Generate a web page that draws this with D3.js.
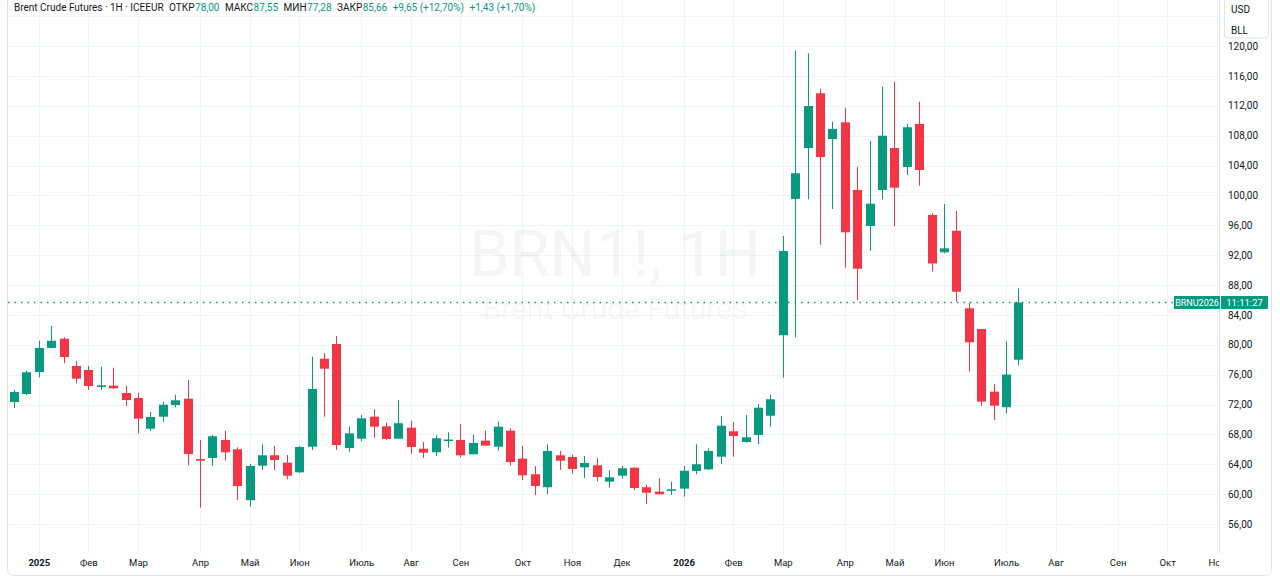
<!DOCTYPE html>
<html>
<head>
<meta charset="utf-8">
<script src="https://cdn.jsdelivr.net/npm/d3@7"></script>
<style>
  body { margin: 0; background: #fff; }
  #chart svg { display: block; font-family: Roboto, "Noto Sans", sans-serif; }
</style>
</head>
<body>
<div id="chart"></div>
<script>
// Brent weekly candles, OHLC
const firstWeek = "2024-12-23";
const lastAxisWeek = "2026-11-16";

const opens = [72.34, 73.41, 76.35, 79.57, 80.81, 77.16, 76.62, 74.35, 74.52, 73.54,
  72.87, 68.76, 70.37, 71.93, 72.78, 64.70, 64.84, 67.25, 66.00, 59.18,
  63.81, 65.20, 64.21, 62.92, 66.35, 78.13, 80.10, 66.18, 67.42, 70.37,
  69.08, 67.42, 68.90, 66.08, 65.60, 67.18, 67.25, 65.33, 67.16, 66.35,
  68.49, 64.75, 62.66, 60.92, 65.20, 64.97, 63.59, 63.86, 61.67, 62.47,
  63.54, 60.92, 60.33, 60.46, 60.73, 63.10, 63.32, 65.01, 68.41, 66.98,
  67.92, 70.50, 81.27, 99.52, 106.34, 113.67, 107.55, 109.78, 100.72, 95.90,
  100.72, 106.34, 103.80, 109.56, 97.37, 92.38, 95.27, 84.88, 82.11, 73.72,
  71.63, 78.00];
const highs = [73.94, 76.53, 80.54, 82.51, 81.00, 77.83, 77.16, 77.06, 76.93, 74.52,
  73.58, 71.00, 72.38, 73.31, 75.28, 67.25, 67.92, 68.49, 66.27, 64.04,
  66.67, 66.45, 65.24, 66.45, 78.40, 78.86, 81.17, 69.03, 70.60, 71.36,
  69.57, 72.60, 69.83, 66.98, 67.88, 68.28, 69.39, 67.96, 68.49, 69.70,
  68.81, 66.45, 63.77, 66.67, 65.78, 65.28, 65.11, 64.80, 63.19, 63.77,
  63.59, 61.22, 62.12, 61.67, 63.77, 66.67, 66.14, 70.46, 69.62, 70.60,
  72.07, 73.31, 94.56, 119.37, 119.02, 114.28, 109.87, 111.74, 103.80, 107.28,
  114.55, 115.22, 109.56, 112.54, 97.60, 98.85, 97.91, 85.63, 82.11, 74.75,
  80.46, 87.55];
const lows = [71.53, 73.27, 75.64, 79.50, 77.52, 74.84, 73.94, 73.94, 74.10, 71.80,
  68.14, 68.45, 69.70, 71.63, 63.86, 58.19, 63.77, 64.48, 59.22, 58.32,
  63.23, 63.19, 61.99, 62.83, 65.91, 70.37, 65.91, 65.68, 67.07, 67.56,
  67.25, 67.42, 65.37, 64.84, 65.11, 66.22, 64.93, 65.33, 66.49, 65.82,
  63.81, 61.89, 59.89, 59.98, 63.23, 62.74, 62.16, 61.72, 60.86, 62.07,
  60.55, 58.68, 59.98, 59.89, 59.66, 62.66, 63.23, 64.04, 65.01, 66.89,
  66.71, 69.03, 75.59, 81.00, 99.48, 93.40, 98.18, 90.32, 85.99, 92.59,
  99.48, 95.90, 102.73, 101.30, 89.81, 92.25, 85.77, 76.39, 71.84, 69.93,
  70.82, 77.28];
const closes = [73.68, 76.31, 79.57, 80.54, 78.36, 75.46, 74.48, 74.57, 74.17, 72.60,
  70.10, 70.33, 71.97, 72.56, 65.37, 64.48, 67.75, 65.60, 61.09, 63.77,
  65.20, 64.57, 62.47, 66.31, 74.08, 76.79, 66.58, 68.14, 70.15, 69.03,
  67.38, 69.49, 66.31, 65.55, 67.48, 67.31, 65.20, 66.85, 66.49, 69.03,
  64.30, 62.52, 61.09, 65.78, 64.48, 63.37, 64.17, 62.30, 62.25, 63.46,
  60.82, 60.19, 59.98, 60.65, 63.14, 64.00, 65.78, 69.16, 67.78, 67.61,
  71.57, 72.70, 92.55, 102.96, 111.97, 105.14, 108.89, 95.06, 90.18, 98.89,
  107.99, 101.03, 109.12, 103.40, 90.88, 92.91, 87.10, 80.33, 72.38, 71.84,
  76.01, 85.66];

const priceTicks = [56, 60, 64, 68, 72, 76, 80, 84, 88, 92, 96, 100, 104, 108, 112, 116, 120, 124];
const monthNames = ["Янв", "Фев", "Мар", "Апр", "Май", "Июн", "Июль", "Авг", "Сен", "Окт", "Ноя", "Дек"];
const symbolTitle = "Brent Crude Futures · 1H · ICEEUR";
const extraChange = "+1,43 (+1,70%)";
const contractName = "BRNU2026";
const countdown = "11:11:27";

(function () {
  var draw_chart = function () {
    const W = 1280, H = 580;
    const plot = { left: 8, right: 1219, top: 0, bottom: 553 };
    const up = "#089981", down = "#F23645", grid = "#F0F3FA", txt = "#131722";

    const ru = d3.formatLocale({ decimal: ",", thousands: " ", grouping: [3], currency: ["", ""] });
    const fmt = ru.format(".2f");

    const weeks = d3.timeMonday.range(new Date(firstWeek + "T00:00"), new Date(lastAxisWeek + "T12:00"));
    const data = opens.map((o, i) => ({ i, o, h: highs[i], l: lows[i], c: closes[i] }));

    // month ticks = first weekly bar inside each month
    const monthTicks = [];
    weeks.forEach((d, i) => {
      if (i > 0 && d.getMonth() !== weeks[i - 1].getMonth()) monthTicks.push(i);
    });

    const x = d3.scaleLinear().domain([0, 81]).range([14, 1018.4]);
    const y = d3.scaleLinear().domain([56, 120]).range([524, 46]);

    const svg = d3.select("#chart").append("svg").attr("width", W).attr("height", H);

    const defs = svg.append("defs");
    defs.append("clipPath").attr("id", "plotclip")
      .append("rect").attr("x", plot.left).attr("y", plot.top)
      .attr("width", plot.right - plot.left).attr("height", plot.bottom - plot.top);
    defs.append("clipPath").attr("id", "timeclip")
      .append("rect").attr("x", 0).attr("y", plot.bottom).attr("width", plot.right).attr("height", H - plot.bottom);

    // outer frame
    svg.append("rect")
      .attr("x", 7.5).attr("y", -6).attr("width", 1264).attr("height", 581.5).attr("rx", 6)
      .attr("fill", "#fff").attr("stroke", "#E0E3EB");

    const g = svg.append("g").attr("clip-path", "url(#plotclip)");

    // grid
    g.selectAll(".hgrid").data(priceTicks).enter().append("line")
      .attr("x1", plot.left).attr("x2", plot.right)
      .attr("y1", d => Math.round(y(d)) + 0.5).attr("y2", d => Math.round(y(d)) + 0.5)
      .attr("stroke", grid);
    g.selectAll(".vgrid").data(monthTicks).enter().append("line")
      .attr("x1", d => Math.round(x(d)) + 0.5).attr("x2", d => Math.round(x(d)) + 0.5)
      .attr("y1", plot.top).attr("y2", plot.bottom)
      .attr("stroke", grid);

    // watermark
    g.append("text")
      .attr("x", 615).attr("y", 276).attr("text-anchor", "middle")
      .attr("font-size", "65px").attr("fill", txt).attr("fill-opacity", 0.045)
      .text("BRN1!, 1H");
    g.append("text")
      .attr("x", 615).attr("y", 319).attr("text-anchor", "middle")
      .attr("font-size", "30px").attr("fill", txt).attr("fill-opacity", 0.045)
      .text("Brent Crude Futures");

    // current price dotted line
    const last = data[data.length - 1];
    g.append("line")
      .attr("x1", plot.left).attr("x2", 1174)
      .attr("y1", y(last.c)).attr("y2", y(last.c))
      .attr("stroke", up).attr("stroke-width", 1.3).attr("stroke-dasharray", "1.5,5");

    // candles
    const candles = g.selectAll(".candle").data(data).enter().append("g").attr("class", "candle");
    candles.append("line")
      .attr("x1", d => Math.round(x(d.i)) + 0.5).attr("x2", d => Math.round(x(d.i)) + 0.5)
      .attr("y1", d => y(d.h)).attr("y2", d => y(d.l))
      .attr("stroke", d => d.c >= d.o ? up : down).attr("stroke-width", 1);
    candles.append("rect")
      .attr("x", d => Math.round(x(d.i)) - 4)
      .attr("width", 9)
      .attr("y", d => y(Math.max(d.o, d.c)))
      .attr("height", d => Math.max(1.5, Math.abs(y(d.o) - y(d.c))))
      .attr("fill", d => d.c >= d.o ? up : down);

    // price axis
    svg.append("line")
      .attr("x1", plot.right + 0.5).attr("x2", plot.right + 0.5)
      .attr("y1", 0).attr("y2", plot.bottom)
      .attr("stroke", "#E0E3EB");

    const yAxis = d3.axisRight(y).tickValues(priceTicks.filter(d => d <= 120)).tickSize(0).tickPadding(0).tickFormat(fmt);
    const ya = svg.append("g").attr("transform", "translate(1228,0)").call(yAxis);
    ya.select(".domain").remove();
    ya.selectAll("text").attr("font-size", "10px").attr("fill", txt).attr("font-family", "Roboto, sans-serif");

    // USD / BLL box
    svg.append("rect")
      .attr("x", 1224.5).attr("y", -4).attr("width", 44).attr("height", 42).attr("rx", 3)
      .attr("fill", "#fff").attr("stroke", "#E0E3EB");
    svg.append("text").attr("x", 1231).attr("y", 13).attr("font-size", "10px").attr("fill", txt).text("USD");
    svg.append("text").attr("x", 1231).attr("y", 34).attr("font-size", "10px").attr("fill", txt).text("BLL");

    // last price labels
    const ly = y(last.c);
    svg.append("rect").attr("x", 1174).attr("y", ly - 6.5).attr("width", 46).attr("height", 13).attr("fill", up);
    svg.append("text").attr("x", 1197).attr("y", ly + 3.5).attr("text-anchor", "middle")
      .attr("font-size", "9px").attr("fill", "#fff").text(contractName);
    svg.append("rect").attr("x", 1221).attr("y", ly - 6.5).attr("width", 47).attr("height", 13).attr("fill", up);
    svg.append("text").attr("x", 1244.5).attr("y", ly + 3.5).attr("text-anchor", "middle")
      .attr("font-size", "9.5px").attr("fill", "#fff").text(countdown);

    // time axis (clip on the outer group, axis translated inside)
    const xAxis = d3.axisBottom(x).tickValues(monthTicks).tickSize(0).tickPadding(0)
      .tickFormat(i => weeks[i].getMonth() === 0 ? String(weeks[i].getFullYear()) : monthNames[weeks[i].getMonth()]);
    const xa = svg.append("g").attr("clip-path", "url(#timeclip)")
      .append("g").attr("transform", "translate(0,559)").call(xAxis);
    xa.select(".domain").remove();
    xa.selectAll("text")
      .attr("font-size", "9.5px").attr("fill", txt).attr("font-family", "Roboto, sans-serif")
      .attr("font-weight", i => weeks[i].getMonth() === 0 ? "bold" : "normal");

    // legend: label + value pairs laid out left to right
    const prev = data[data.length - 2];
    const chg = last.c - prev.c;
    const pct = chg / prev.c * 100;
    const groups = [
      [{ t: symbolTitle, c: txt }],
      [{ t: "ОТКР", c: txt }, { t: fmt(last.o), c: up }],
      [{ t: "МАКС", c: txt }, { t: fmt(last.h), c: up }],
      [{ t: "МИН", c: txt }, { t: fmt(last.l), c: up }],
      [{ t: "ЗАКР", c: txt }, { t: fmt(last.c), c: up }],
      [{ t: "+" + fmt(chg) + " (+" + fmt(pct) + "%)", c: up }],
      [{ t: extraChange, c: up }]
    ];
    let lx = 14;
    groups.forEach(function (grp) {
      grp.forEach(function (p) {
        const t = svg.append("text")
          .attr("x", lx).attr("y", 11)
          .attr("font-size", "10px").attr("fill", p.c)
          .text(p.t);
        lx += t.node().getComputedTextLength() + 0.5;
      });
      lx += 5;
    });
  };

  document.addEventListener("DOMContentLoaded", function () {
    draw_chart();
  });
})();
</script>
</body>
</html>
